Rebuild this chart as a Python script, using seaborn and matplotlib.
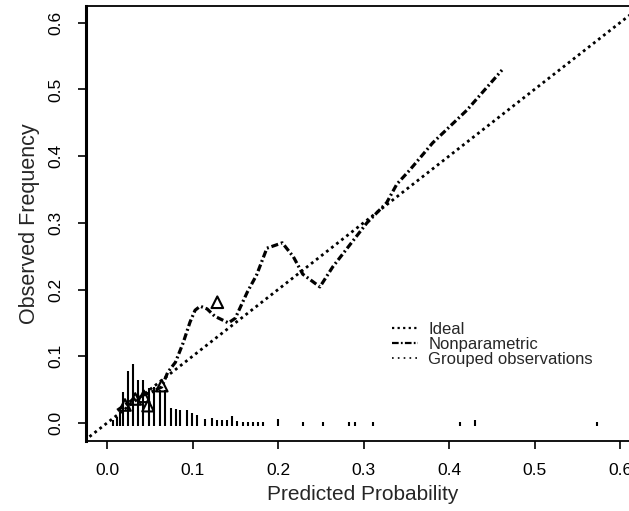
import matplotlib
matplotlib.use("Agg")
import matplotlib.pyplot as plt
import seaborn as sns
import pandas as pd
import numpy as np
from matplotlib.lines import Line2D

# ---- data ----
ideal_x = [-0.05, 0.70]
ideal_y = [-0.05, 0.70]

nonpar_x = [0.012, 0.021, 0.035, 0.050, 0.064, 0.071, 0.080, 0.089, 0.097, 0.103,
            0.109, 0.117, 0.126, 0.142, 0.150, 0.164, 0.175, 0.187, 0.205, 0.218,
            0.229, 0.249, 0.264, 0.304, 0.327, 0.339, 0.354, 0.381, 0.421, 0.462]
nonpar_y = [0.019, 0.027, 0.039, 0.045, 0.054, 0.076, 0.091, 0.120, 0.151, 0.169,
            0.175, 0.171, 0.160, 0.150, 0.157, 0.196, 0.222, 0.262, 0.270, 0.249,
            0.223, 0.204, 0.234, 0.300, 0.330, 0.358, 0.379, 0.420, 0.469, 0.529]

group_x = [0.021, 0.033, 0.043, 0.048, 0.064, 0.129]
group_y = [0.027, 0.036, 0.040, 0.026, 0.056, 0.181]

spike_x = [0.007, 0.012, 0.015, 0.019, 0.025, 0.030, 0.036, 0.042, 0.049, 0.055,
           0.062, 0.068, 0.075, 0.081, 0.085, 0.094, 0.099, 0.105, 0.115, 0.123,
           0.129, 0.135, 0.140, 0.146, 0.152, 0.159, 0.165, 0.171, 0.177, 0.182,
           0.200, 0.229, 0.253, 0.283, 0.290, 0.311, 0.413, 0.430, 0.573]
spike_h = [0.009, 0.013, 0.021, 0.051, 0.082, 0.093, 0.069, 0.069, 0.057, 0.058,
           0.054, 0.054, 0.027, 0.025, 0.024, 0.024, 0.019, 0.016, 0.010, 0.012,
           0.009, 0.009, 0.009, 0.015, 0.007, 0.006, 0.005, 0.005, 0.005, 0.005,
           0.010, 0.005, 0.005, 0.005, 0.005, 0.005, 0.005, 0.008, 0.005]

xticks = [0.0, 0.1, 0.2, 0.3, 0.4, 0.5, 0.6]
yticks = [0.0, 0.1, 0.2, 0.3, 0.4, 0.5, 0.6]
tick_labels = ["0.0", "0.1", "0.2", "0.3", "0.4", "0.5", "0.6"]

legend_labels = ["Ideal", "Nonparametric", "Grouped observations"]

# ---- style ----
sns.set_style("ticks")
plt.rcParams['font.family'] = ['Liberation Sans', 'DejaVu Sans']

fig = plt.figure(figsize=(6.29, 5.11), dpi=100)
ax = fig.add_axes([86 / 629, 70 / 511, 554 / 629, 435 / 511])

spike_base = -0.004
ax.vlines(spike_x, spike_base, [spike_base + h for h in spike_h],
          color="black", lw=1.5)

df_ideal = pd.DataFrame({"x": ideal_x, "y": ideal_y})
sns.lineplot(data=df_ideal, x="x", y="y", ax=ax, color="black", lw=2.0,
             linestyle=(0, (1, 1.3)), sort=False)

df_np = pd.DataFrame({"x": nonpar_x, "y": nonpar_y})
sns.lineplot(data=df_np, x="x", y="y", ax=ax, color="black", lw=2.3,
             linestyle=(0, (2.2, 0.9, 0.6, 0.9)), sort=False)

df_g = pd.DataFrame({"x": group_x, "y": group_y})
sns.scatterplot(data=df_g, x="x", y="y", ax=ax, marker="^", s=70,
                facecolor="none", edgecolor="black", linewidth=1.5, zorder=5)

ax.set_xlim(-0.0246, 0.6234)
ax.set_ylim(-0.027, 0.625)

ax.set_xticks(xticks)
ax.set_xticklabels(tick_labels, fontsize=12.5)
ax.set_yticks(yticks)
ax.set_yticklabels(tick_labels, fontsize=12.5, rotation=90, va="center")
ax.tick_params(axis="x", direction="out", length=6, width=1.2, pad=10, colors="black")
ax.tick_params(axis="y", direction="out", length=6, width=1.2, pad=10, colors="black")

ax.set_xlabel("Predicted Probability", fontsize=15, labelpad=5)
ax.set_ylabel("Observed Frequency", fontsize=15.5, labelpad=6)

for side in ["top", "bottom", "right"]:
    ax.spines[side].set_linewidth(1.3)
    ax.spines[side].set_color("black")
ax.spines["left"].set_linewidth(2.2)
ax.spines["left"].set_color("black")

handles = [
    Line2D([], [], color="black", lw=1.6, linestyle=(0, (1, 1.5))),
    Line2D([], [], color="black", lw=1.6, linestyle=(0, (3, 1, 0.8, 1))),
    Line2D([], [], color="black", lw=1.2, linestyle=(0, (1, 2.5))),
]
leg = ax.legend(handles, legend_labels, loc="upper left",
                bbox_to_anchor=((380 - 86) / 554, (441 - 310) / 435),
                frameon=False, fontsize=12, handlelength=1.6, handletextpad=0.6,
                labelspacing=0.0, borderpad=0.2)

fig.savefig("out.png", dpi=100)
